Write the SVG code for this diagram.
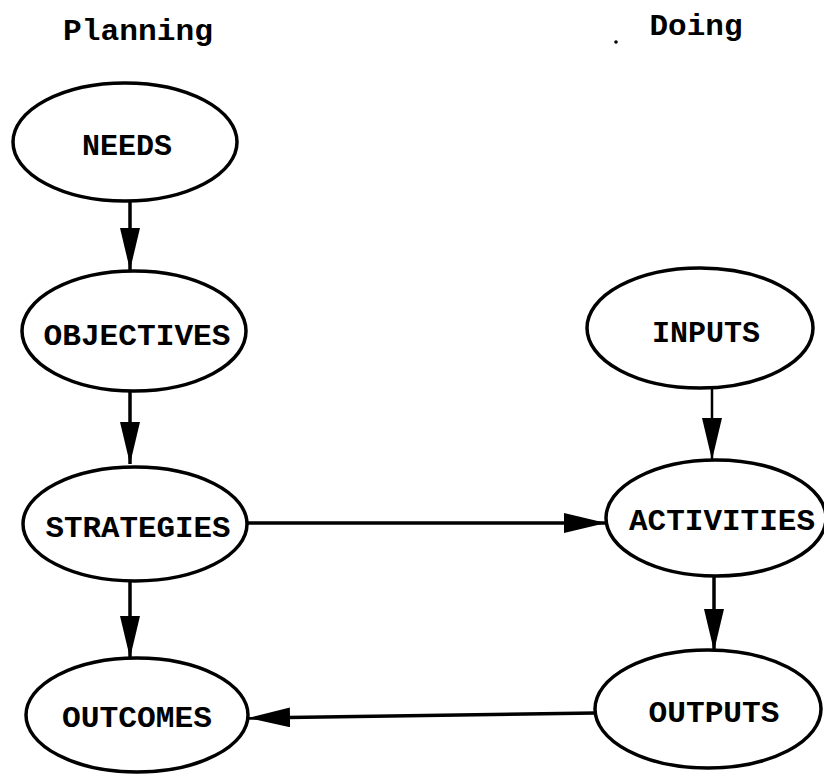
<svg xmlns="http://www.w3.org/2000/svg" width="824" height="776" viewBox="0 0 824 776">
<style>
.node ellipse{fill:#fff;stroke:#000;stroke-width:3.5}
text{font-family:"Liberation Mono","DejaVu Sans Mono",monospace;font-weight:bold;font-size:30px;fill:#000;text-anchor:middle}
.conn line{stroke:#000;stroke-width:3.5}
.conn line.thin{stroke-width:2.5}
</style>
<defs>
<marker id="ah" markerUnits="userSpaceOnUse" markerWidth="44" markerHeight="22" refX="42" refY="10" orient="auto">
<path d="M0,0 L42,10 L0,20 Z" fill="#000"/>
</marker>
</defs>
<rect width="824" height="776" fill="#fff"/>
<g id="headers">
<text x="138" y="40" textLength="150" lengthAdjust="spacingAndGlyphs">Planning</text>
<text x="696" y="35" textLength="93" lengthAdjust="spacingAndGlyphs">Doing</text>
<circle cx="616" cy="42" r="1.8" fill="#000"/>
</g>
<g id="needs" class="node"><ellipse cx="125" cy="142" rx="112" ry="59"/><text x="127" y="155" textLength="90" lengthAdjust="spacingAndGlyphs">NEEDS</text></g>
<g id="objectives" class="node"><ellipse cx="134" cy="331" rx="112" ry="60"/><text x="137" y="345" textLength="187" lengthAdjust="spacingAndGlyphs">OBJECTIVES</text></g>
<g id="strategies" class="node"><ellipse cx="135" cy="524" rx="112" ry="57"/><text x="138" y="537" textLength="185" lengthAdjust="spacingAndGlyphs">STRATEGIES</text></g>
<g id="outcomes" class="node"><ellipse cx="137" cy="715" rx="111" ry="57"/><text x="137" y="727" textLength="150" lengthAdjust="spacingAndGlyphs">OUTCOMES</text></g>
<g id="inputs" class="node"><ellipse cx="700" cy="328" rx="113" ry="60"/><text x="706" y="342" textLength="108" lengthAdjust="spacingAndGlyphs">INPUTS</text></g>
<g id="activities" class="node"><ellipse cx="716" cy="518" rx="110" ry="58"/><text x="722" y="530" textLength="186" lengthAdjust="spacingAndGlyphs">ACTIVITIES</text></g>
<g id="outputs" class="node"><ellipse cx="708" cy="709" rx="113" ry="59"/><text x="714" y="722" textLength="131" lengthAdjust="spacingAndGlyphs">OUTPUTS</text></g>
<g id="connectors" class="conn">
<line x1="130" y1="202" x2="130" y2="270" marker-end="url(#ah)"/>
<line x1="130" y1="392" x2="130" y2="464" marker-end="url(#ah)"/>
<line x1="130" y1="582" x2="130" y2="658" marker-end="url(#ah)"/>
<line class="thin" x1="712" y1="388" x2="712" y2="460" marker-end="url(#ah)"/>
<line x1="714" y1="577" x2="714" y2="651" marker-end="url(#ah)"/>
<line x1="247" y1="523" x2="606" y2="523" marker-end="url(#ah)"/>
<line x1="595" y1="713" x2="248" y2="718" marker-end="url(#ah)"/>
</g>
</svg>
